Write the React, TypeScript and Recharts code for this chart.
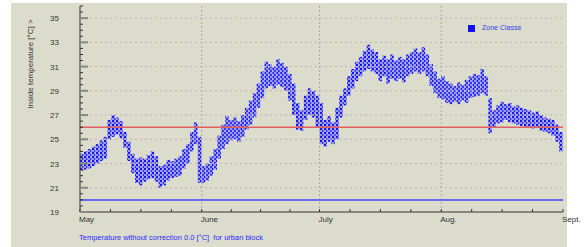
import React from 'react';
import { ComposedChart, Bar, XAxis, YAxis, ReferenceLine } from 'recharts';

// day index 0 = 1 May, 123 = 1 Sept
const monthTicks = [0, 31, 61, 92, 123];
const monthLabels = ['May', 'June', 'July', 'Aug.', 'Sept.'];
const minorDayTicks = [7.75, 15.5, 23.25, 38.5, 46, 53.5, 68.75, 76.5, 84.25, 99.75, 107.5, 115.25];
const gridDays = [31, 61, 92];

const labelTemps = [19, 21, 23, 25, 27, 29, 31, 33, 35];
const gridTemps = [21, 23, 25, 27, 29, 31, 33, 35];
const minorTemps = [
  19, 19.5, 20, 20.5, 21, 21.5, 22, 22.5, 23, 23.5, 24, 24.5, 25, 25.5, 26, 26.5, 27, 27.5,
  28, 28.5, 29, 29.5, 30, 30.5, 31, 31.5, 32, 32.5, 33, 33.5, 34, 34.5, 35, 35.5, 36,
];

const comfortLimit = 26;
const lowerLimit = 20;

// daily min / max of the zone temperature
const mayMin = [22.4, 22.5, 22.6, 22.8, 23.0, 23.2, 23.4, 25.0, 25.2, 25.4, 25.1, 24.3, 23.2, 22.2, 21.4, 21.2, 21.5, 21.7, 21.8, 21.5, 21.0, 21.2, 21.6, 21.8, 21.9, 22.0, 22.6, 23.0, 24.0, 24.6, 21.4];
const mayMax = [23.8, 24.0, 24.2, 24.4, 24.6, 24.9, 25.2, 26.6, 27.0, 26.8, 26.5, 25.6, 24.8, 23.8, 23.4, 23.5, 23.4, 23.7, 24.0, 23.6, 22.8, 22.9, 23.3, 23.2, 23.4, 23.6, 24.2, 24.6, 25.6, 26.4, 25.2];
const juneMin = [21.4, 21.6, 22.0, 22.5, 23.4, 24.2, 24.6, 24.9, 25.0, 24.8, 25.2, 25.8, 26.2, 26.8, 27.6, 28.4, 29.2, 29.4, 29.2, 29.5, 29.3, 29.0, 28.2, 27.0, 25.8, 25.7, 26.6, 27.0, 26.8, 26.0];
const juneMax = [22.8, 23.0, 23.6, 24.2, 25.3, 26.2, 26.9, 26.6, 26.8, 26.5, 27.0, 27.6, 28.2, 28.8, 29.6, 30.6, 31.4, 31.2, 31.0, 31.6, 31.3, 31.0, 30.4, 29.6, 28.0, 27.4, 28.6, 29.2, 29.0, 28.6];
const julyMin = [24.6, 24.4, 24.8, 24.6, 25.0, 26.8, 27.8, 28.6, 29.2, 29.8, 30.2, 30.6, 30.8, 30.6, 30.4, 29.8, 30.2, 29.6, 30.0, 29.8, 30.0, 29.7, 30.2, 30.4, 30.6, 30.4, 30.6, 30.2, 29.4, 28.8, 28.4];
const julyMax = [28.0, 26.6, 26.9, 26.4, 27.6, 28.6, 29.2, 30.2, 30.8, 31.4, 31.8, 32.3, 32.8, 32.4, 32.2, 31.6, 31.9, 31.6, 32.0, 31.5, 31.8, 31.6, 32.0, 32.2, 32.5, 32.2, 32.6, 32.0, 31.2, 30.6, 30.0];
const augMin = [28.3, 28.0, 27.9, 28.1, 27.9, 28.2, 28.0, 28.4, 28.5, 28.6, 28.8, 28.6, 25.5, 26.0, 26.3, 26.4, 26.6, 26.4, 26.3, 26.2, 26.1, 26.0, 26.0, 25.9, 26.0, 25.7, 25.6, 25.5, 25.3, 24.8, 24.0];
const augMax = [30.2, 29.8, 29.6, 29.4, 29.7, 29.5, 29.9, 30.2, 30.4, 30.3, 30.8, 30.2, 28.4, 27.4, 27.8, 28.1, 27.9, 28.0, 27.7, 27.8, 27.6, 27.5, 27.4, 27.2, 27.3, 27.0, 26.8, 26.7, 26.6, 26.2, 25.6];

const dayMin = [...mayMin, ...juneMin, ...julyMin, ...augMin];
const dayMax = [...mayMax, ...juneMax, ...julyMax, ...augMax];

const data = dayMin.map((lo, i) => ({ day: i + 0.5, range: [lo, dayMax[i]] }));

const FONT = '"Liberation Sans", Arial, sans-serif';
const TXT = '#333';

const BottomTick = ({ x, y, payload }: any) => {
  const i = monthTicks.indexOf(payload.value);
  return (
    <g>
      <line x1={x} x2={x} y1={y} y2={y - 3} stroke="#333" />
      {i >= 0 && (
        <text x={x - 1} y={y + 10} fontSize={8} fill={TXT} fontFamily={FONT}>
          {monthLabels[i]}
        </text>
      )}
    </g>
  );
};

const TopTick = ({ x, y }: any) => <line x1={x} x2={x} y1={y} y2={y + 3} stroke="#333" />;

const LeftTick = ({ x, y, payload }: any) => {
  const major = labelTemps.includes(payload.value);
  return (
    <g>
      {major ? (
        <>
          <line x1={x} x2={x + 8} y1={y} y2={y} stroke="#888" strokeWidth={2} />
          <text x={x - 21} y={y + 3} fontSize={8} fill={TXT} textAnchor="end" fontFamily={FONT}>
            {payload.value}
          </text>
        </>
      ) : (
        <line x1={x} x2={x + 3} y1={y} y2={y} stroke="#333" />
      )}
    </g>
  );
};

const RightTick = ({ x, y, payload }: any) => {
  const major = labelTemps.includes(payload.value);
  return major ? (
    <line x1={x} x2={x - 8} y1={y} y2={y} stroke="#666" strokeWidth={2} />
  ) : (
    <line x1={x} x2={x - 3} y1={y} y2={y} stroke="#444" />
  );
};

export default function App() {
  return (
    <div style={{ position: 'absolute', left: 0, top: 0, width: 584, height: 247, background: '#fff', fontFamily: FONT }}>
      <div style={{ position: 'absolute', left: 11, top: 3, width: 556, height: 244, background: '#dcdccc' }} />
      <div style={{ position: 'absolute', left: 0, top: 0 }}>
        <ComposedChart width={584} height={247} data={data} margin={{ top: 6, right: 21, bottom: 0, left: 0 }}>
          <defs>
            <pattern id="dots" patternUnits="userSpaceOnUse" width={4} height={4}>
              <rect x={0} y={0} width={4} height={4} fill="#9a9ae0" />
              <rect x={0} y={0} width={2} height={2} fill="#1414ff" />
              <rect x={2} y={2} width={2} height={2} fill="#3030ff" />
            </pattern>
          </defs>
          <XAxis
            xAxisId="bottom"
            dataKey="day"
            type="number"
            domain={[0, 123]}
            ticks={[...monthTicks, ...minorDayTicks]}
            interval={0}
            tickSize={0}
            tickMargin={0}
            tickLine={false}
            tick={<BottomTick />}
            axisLine={{ stroke: '#333' }}
            height={35}
            allowDataOverflow
          />
          <XAxis
            xAxisId="top"
            orientation="top"
            type="number"
            domain={[0, 123]}
            ticks={[...monthTicks, ...minorDayTicks]}
            interval={0}
            tickSize={0}
            tickMargin={0}
            tickLine={false}
            tick={<TopTick />}
            axisLine={{ stroke: '#999', strokeWidth: 2 }}
            height={0}
            allowDataOverflow
          />
          <YAxis
            yAxisId="left"
            type="number"
            domain={[19, 36]}
            ticks={minorTemps}
            interval={0}
            tickSize={0}
            tickMargin={0}
            tickLine={false}
            tick={<LeftTick />}
            axisLine={{ stroke: '#333' }}
            width={80}
            allowDataOverflow
          />
          <YAxis
            yAxisId="right"
            orientation="right"
            type="number"
            domain={[19, 36]}
            ticks={minorTemps}
            interval={0}
            tickSize={0}
            tickMargin={0}
            tickLine={false}
            tick={<RightTick />}
            axisLine={{ stroke: '#555' }}
            width={0}
            allowDataOverflow
          />
          {gridTemps.map((t) => (
            <ReferenceLine key={'h' + t} xAxisId="bottom" yAxisId="left" y={t} stroke="#c6adbd" strokeDasharray="2 3" />
          ))}
          {gridDays.map((d) => (
            <ReferenceLine key={'v' + d} xAxisId="bottom" yAxisId="left" x={d} stroke="#a9a9a9" strokeDasharray="2 2" />
          ))}
          <Bar
            xAxisId="bottom"
            yAxisId="left"
            dataKey="range"
            barSize={3.5}
            fill="url(#dots)"
            isAnimationActive={false}
          />
          <ReferenceLine xAxisId="bottom" yAxisId="left" y={comfortLimit} stroke="#e06060" strokeWidth={1.5} />
          <ReferenceLine xAxisId="bottom" yAxisId="left" y={lowerLimit} stroke="#6a6aee" strokeWidth={2} />
        </ComposedChart>
      </div>
      <div
        style={{
          position: 'absolute', left: 30, top: 64, transform: 'translate(-50%, -50%) rotate(-90deg)',
          whiteSpace: 'nowrap', fontSize: 8, color: TXT,
        }}
      >
        Inside temperature [°C] &gt;
      </div>
      <div style={{ position: 'absolute', left: 468, top: 25, width: 7, height: 7, background: '#1010ff' }} />
      <div style={{ position: 'absolute', left: 482, top: 24, fontSize: 7, color: '#3a3aee', whiteSpace: 'nowrap' }}>
        Zone Classe
      </div>
      <div style={{ position: 'absolute', left: 79, top: 233, fontSize: 7.5, color: '#2a2aff', whiteSpace: 'pre' }}>
        {'Temperature without correction 0.0 [°C]  for urban block'}
      </div>
    </div>
  );
}
